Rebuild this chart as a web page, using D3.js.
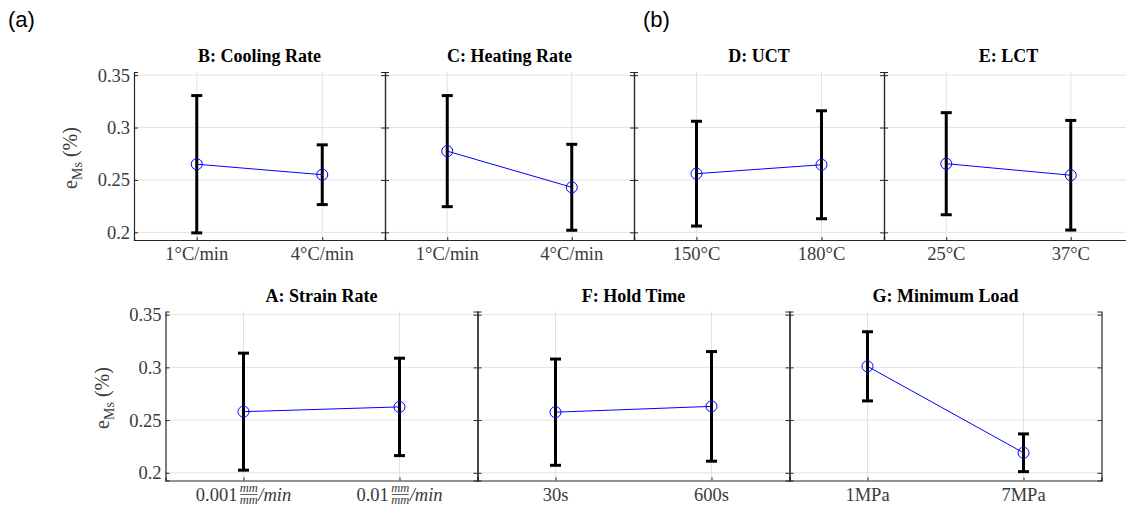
<!DOCTYPE html>
<html>
<head>
<meta charset="utf-8">
<script src="https://cdn.jsdelivr.net/npm/d3@7"></script>
<style>
  html, body { margin: 0; padding: 0; background: #fff; }
  svg { display: block; }
  .serif { font-family: "Liberation Serif", "DejaVu Serif", "Times New Roman", serif; }
  .sans { font-family: "Liberation Sans", Arial, sans-serif; }
</style>
</head>
<body>
<script>
// Main-effect means with error bars for each process factor
const titles = ["B: Cooling Rate", "C: Heating Rate", "D: UCT", "E: LCT",
                "A: Strain Rate", "F: Hold Time", "G: Minimum Load"];
const levels = [
  ["1°C/min", "4°C/min"],
  ["1°C/min", "4°C/min"],
  ["150°C", "180°C"],
  ["25°C", "37°C"],
  ["0.001", "0.01"],          // strain rate, drawn with a mm/mm fraction
  ["30s", "600s"],
  ["1MPa", "7MPa"]
];
const means = [
  [0.265, 0.255],
  [0.2775, 0.243],
  [0.256, 0.2645],
  [0.2655, 0.2545],
  [0.258, 0.2625],
  [0.2575, 0.263],
  [0.301, 0.219]
];
const errs = [
  [0.0655, 0.0285],
  [0.053, 0.041],
  [0.050, 0.0515],
  [0.0487, 0.0523],
  [0.0555, 0.0462],
  [0.0504, 0.052],
  [0.0328, 0.0179]
];
const yTicks = [0.2, 0.25, 0.3, 0.35];
const yDomain = [0.1927, 0.353];

const W = 1126, H = 508;
const svg = d3.select("body").append("svg").attr("width", W).attr("height", H);

const axisColor = "#262626";
const textColor = "#3a3a3a";
const gridColor = "#e3e3e3";
const tickFont = 18.5;

// Panel layout: [left, right, top, bottom]
const layout = [
  [134, 385, 72, 240],
  [385, 634, 72, 240],
  [634, 884, 72, 240],
  [884, 1133, 72, 240],
  [165.5, 477.5, 311.5, 480.5],
  [477.5, 789.5, 311.5, 480.5],
  [789.5, 1101.5, 311.5, 480.5]
];
const showYLabels = [true, false, false, false, true, false, false];

function drawPanel(i) {
  const [x0, x1, y0, y1] = layout[i];
  const x = d3.scaleLinear().domain([0.5, 2.5]).range([x0, x1]);
  const y = d3.scaleLinear().domain(yDomain).range([y1, y0]);
  const g = svg.append("g");
  const cats = [1, 2];

  // grid
  g.selectAll(".hgrid").data(yTicks).enter().append("line")
    .attr("x1", x0).attr("x2", x1)
    .attr("y1", d => y(d)).attr("y2", d => y(d))
    .attr("stroke", gridColor).attr("stroke-width", 1);
  g.selectAll(".vgrid").data(cats).enter().append("line")
    .attr("x1", d => x(d)).attr("x2", d => x(d))
    .attr("y1", y0).attr("y2", y1)
    .attr("stroke", gridColor).attr("stroke-width", 1);

  // left and right axes, ticks pointing inward
  const left = d3.axisRight(y).tickValues(yTicks).tickSize(4).tickFormat("");
  const right = d3.axisLeft(y).tickValues(yTicks).tickSize(4).tickFormat("");
  const bottom = d3.axisTop(x).tickValues(cats).tickSize(3).tickFormat("");
  [[left, `translate(${x0},0)`], [right, `translate(${x1},0)`], [bottom, `translate(0,${y1})`]]
    .forEach(([ax, tr]) => {
      const a = g.append("g").attr("transform", tr).call(ax);
      a.select(".domain").attr("stroke", axisColor).attr("stroke-width", 1.2);
      a.selectAll(".tick line").attr("stroke", axisColor).attr("stroke-width", 1);
    });

  if (showYLabels[i]) {
    g.selectAll(".ylab").data(yTicks).enter().append("text")
      .attr("class", "serif")
      .attr("x", x0 - 4).attr("y", d => y(d)).attr("dy", "0.35em")
      .attr("text-anchor", "end")
      .attr("font-size", tickFont).attr("fill", textColor)
      .text(d => d3.format("")(d));
    const yl = g.append("text").attr("class", "serif")
      .attr("transform", `translate(${x0 - 57},${(y0 + y1) / 2 + 2}) rotate(-90)`)
      .attr("text-anchor", "middle")
      .attr("font-size", 20).attr("fill", textColor);
    yl.append("tspan").text("e");
    yl.append("tspan").attr("font-size", 14).attr("dy", 5).text("Ms");
    yl.append("tspan").attr("dy", -5).text(" (%)");
  }

  // x tick labels
  const labY = y1 + 14;
  cats.forEach((c, k) => {
    if (i === 4) {
      const lg = g.append("g").attr("transform", `translate(${x(c)},${labY})`);
      const num = levels[i][k];
      const t = lg.append("text").attr("class", "serif").attr("font-size", tickFont)
        .attr("fill", textColor).attr("dy", "0.35em").text(num);
      const nw = t.node().getComputedTextLength();
      const fw = 17;
      const u = lg.append("text").attr("class", "serif").attr("font-size", tickFont)
        .attr("font-style", "italic").attr("fill", textColor).attr("dy", "0.35em").text("/min");
      const uw = u.node().getComputedTextLength();
      const total = nw + 3 + fw + 1 + uw;
      const sx = -total / 2;
      t.attr("x", sx);
      const fx = sx + nw + 3 + fw / 2;
      lg.append("text").attr("class", "serif").attr("x", fx).attr("y", -3).attr("text-anchor", "middle")
        .attr("font-size", 12.5).attr("font-style", "italic")
        .attr("fill", textColor).text("mm");
      lg.append("line").attr("x1", fx - fw / 2).attr("x2", fx + fw / 2)
        .attr("y1", 0).attr("y2", 0).attr("stroke", textColor).attr("stroke-width", 0.8);
      lg.append("text").attr("class", "serif").attr("x", fx).attr("y", 9).attr("text-anchor", "middle")
        .attr("font-size", 12.5).attr("font-style", "italic")
        .attr("fill", textColor).text("mm");
      u.attr("x", sx + nw + 3 + fw + 1);
    } else {
      g.append("text").attr("class", "serif").attr("x", x(c)).attr("y", labY).attr("dy", "0.35em")
        .attr("text-anchor", "middle")
        .attr("font-size", tickFont).attr("fill", textColor)
        .text(levels[i][k]);
    }
  });

  // title
  g.append("text").attr("class", "serif").attr("x", (x0 + x1) / 2).attr("y", y0 - 10)
    .attr("text-anchor", "middle")
    .attr("font-weight", "bold").attr("font-size", 18)
    .attr("fill", "#000").text(titles[i]);

  // data
  const pts = cats.map((c, k) => ({ c, m: means[i][k], e: errs[i][k] }));
  g.append("path").datum(pts)
    .attr("d", d3.line().x(d => x(d.c)).y(d => y(d.m)))
    .attr("fill", "none").attr("stroke", "#0000ff").attr("stroke-width", 1);
  const cap = 5.5;
  const eb = g.selectAll(".eb").data(pts).enter().append("g");
  eb.append("line").attr("x1", d => x(d.c)).attr("x2", d => x(d.c))
    .attr("y1", d => y(d.m - d.e)).attr("y2", d => y(d.m + d.e))
    .attr("stroke", "#000").attr("stroke-width", 3);
  eb.append("line").attr("x1", d => x(d.c) - cap).attr("x2", d => x(d.c) + cap)
    .attr("y1", d => y(d.m + d.e)).attr("y2", d => y(d.m + d.e))
    .attr("stroke", "#000").attr("stroke-width", 3);
  eb.append("line").attr("x1", d => x(d.c) - cap).attr("x2", d => x(d.c) + cap)
    .attr("y1", d => y(d.m - d.e)).attr("y2", d => y(d.m - d.e))
    .attr("stroke", "#000").attr("stroke-width", 3);
  g.selectAll(".mk").data(pts).enter().append("circle")
    .attr("cx", d => x(d.c)).attr("cy", d => y(d.m)).attr("r", 5.5)
    .attr("fill", "none").attr("stroke", "#0000ff").attr("stroke-width", 1);
}

for (let i = 0; i < titles.length; i++) drawPanel(i);

// group labels
svg.append("text").attr("class", "sans").attr("x", 8).attr("y", 27)
  .attr("font-size", 22).attr("fill", "#000").text("(a)");
svg.append("text").attr("class", "sans").attr("x", 643).attr("y", 27)
  .attr("font-size", 22).attr("fill", "#000").text("(b)");
</script>
</body>
</html>
